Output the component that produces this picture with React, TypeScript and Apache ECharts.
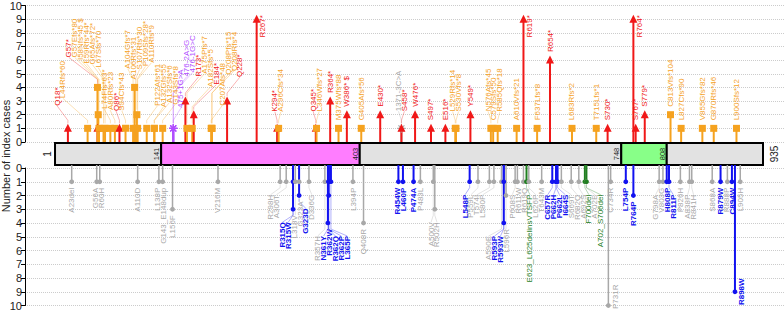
import React, { useEffect, useRef } from "react";
import * as echarts from "echarts";

// ---------------- data ----------------
const proteinLength = 935;
const domainStart = [1, 141, 403, 748, 808];
const domainEnd = [141, 403, 748, 808, 935];
const domainKind = ["plain", "domainA", "plain", "domainB", "plain"];

const truncLabels = ["Q18*","L44Rfs*60","G57*","G57Efs*80","I58Nfs*45 $","E59Rfs*44*","G65Afs*72*","L67Sfs*70","L74Ffs*63*","A80Rfs*23","Q86*","S94Cfs*43","A104Gfs*7","A106Rfs*31","S107Rfs*30","P109Sfs*28*","A110Rfs*9","P122Afs*61","A132Gfs*55","A132Sfs*6","G143Sfs*8","475+1G>A","476-2A>G","476-1G>C","R173*","A175Pfs*7","A182Sfs*5","E184*","C207Afs*48","Q208Pfs*15","Q208Rfs*4","Q228*","R267*","K294*","A296Cfs*34","Q345*","L346Wfs*27","R364*","M375Wfs*88","W386* $","G405Afs*56","E430*","1371-3C>A","S458*","W476*","S497*","E516*","L529Rfs*14","S530Vfs*8","Y549*","N576Afs*45","C579Sfs*50","R585Qfs*18","A610Vfs*21","R619*","F637Lfs*8","R654*","L683Rfs*2","T715Lfs*1","S730*","R764*","S767*","S779*","C813Vfs*104","L827Cfs*90","V855Gfs*82","G870Rfs*46","L900Sfs*12"];
const truncPos = [18,44,57,57,58,59,65,67,74,80,86,94,104,106,107,109,110,122,132,132,143,157,157,157,173,175,182,184,207,208,208,228,267,294,296,345,346,364,375,386,405,430,458,458,476,497,516,529,530,549,576,579,585,610,619,637,654,683,715,730,764,767,779,813,827,855,870,900];
const truncCases = [1,1,1,4,2,1,1,1,1,1,1,1,1,4,1,2,1,1,1,1,1,1,1,1,3,1,1,2,1,1,1,3,9,1,1,1,1,3,1,2,1,2,1,1,2,1,1,1,1,2,1,1,1,1,9,1,6,1,1,1,9,1,2,2,1,1,1,1];
// N nonsense, F frameshift, S splice, O other splice
const truncType = ["N","F","N","F","F","F","F","F","F","F","N","F","F","F","F","F","F","F","F","F","F","S","S","S","N","F","F","N","F","F","F","N","N","N","F","N","F","N","F","N","F","N","O","N","N","N","N","F","F","N","F","F","F","F","N","F","N","F","F","N","N","N","N","F","F","F","F","F"];

const missLabels = ["A23del","G56A","R60H","A110D","L138P","G143_E148dup","L156F","V216M","R298H","A306T","R315Q","R315W","L318V","G323A","G323D","D336G","R357H","N361Y","R362W","R362Q","R362P","L365P","L394P","Q408R","R454W","L460P","P474A","P483L","A500V","R502H","L548P","P559L","T574I","L580P","A590E","R593P","R593W","L596R","P608S","R611W","R619Q","E623_L625delinsVTSFP","L626P","T643M","C657R","P662H","P662L","I664S","S669T","R682Q","A692S","F700del","A702E","A702_S706del","P731R","C734R","L754P","R764P","G798A","V803G","H808P","R811P","P826H","A838P","R841H","S868A","R879W","R888P","C894W","R898W","L905H"];
const missPos = [23,56,60,110,138,143,156,216,298,306,315,315,318,323,323,336,357,361,362,362,362,365,394,408,454,460,474,483,500,502,548,559,574,580,590,593,593,596,608,611,619,623,626,643,657,662,662,664,669,682,692,700,702,702,731,734,754,764,798,803,808,811,826,838,841,868,879,888,894,898,905];
const missCases = [1,1,1,1,1,1,3,1,1,1,1,3,1,1,2,1,1,4,2,1,1,1,1,4,1,1,1,1,1,3,1,1,1,1,1,1,4,2,1,1,1,1,1,1,1,1,1,1,1,1,1,1,1,1,10,1,1,2,1,1,1,1,1,1,1,1,1,1,1,9,1];
// M other missense (grey), P pathogenic missense (blue), I in-frame (green)
const missType = ["M","M","M","M","M","M","M","M","M","M","P","P","M","M","P","M","M","P","P","P","P","P","M","M","P","P","P","M","M","M","P","M","M","M","M","P","P","M","M","M","M","I","M","M","P","P","P","P","M","M","M","I","M","I","M","M","P","P","M","M","P","P","M","M","M","M","P","M","P","P","M"];

const caseMin = 0;
const caseMax = 10;
const yTitle = "Number of index cases";

// ---------------- styles ----------------
const FF = '"Liberation Sans", Arial, Helvetica, sans-serif';
const COLORS: Record<string, string> = {
  N: "#f01818", F: "#f5a21f", S: "#b04dff", O: "#a8a8a8",
  M: "#a8a8a8", P: "#1212f0", I: "#1f7f1f",
};
const DOMAIN_COLORS: Record<string, string> = { plain: "#e2e2e2", domainA: "#ff7dff", domainB: "#88ff88" };
const X_MIN = -38.6;
const X_MAX = 962.7;
const GAP = 5.9;

let measureCtx: CanvasRenderingContext2D | null = null;
function textWidth(s: string, bold: boolean) {
  if (!measureCtx) measureCtx = document.createElement("canvas").getContext("2d");
  if (!measureCtx) return s.length * 4.5;
  measureCtx.font = `${bold ? "bold " : ""}8px ${FF}`;
  return measureCtx.measureText(s).width;
}

type Lay = { px: number; py: number; ext: number; len: number; side: boolean; lx: number; base: number; knee: number; displaced: boolean };

function computeLayout(pos: number[], cnt: number[], labels: string[], bold: boolean[], coord: (v: number[]) => number[], dir: number, bottomLimit: number): Lay[] {
  const L: Lay[] = pos.map((p, i) => {
    const c = coord([p, cnt[i]]);
    const px = c[0], py = c[1];
    const ext = dir < 0 ? py - 5 : py + 3;
    const len = textWidth(labels[i], bold[i]);
    const side = dir < 0 ? ext - 3 - len < 1 : ext + 3 + len > bottomLimit;
    return { px, py, ext, len, side, lx: px, base: ext, knee: ext, displaced: false };
  });
  const order = L.map((_, i) => i).filter((i) => !L[i].side).sort((a, b) => L[a].px - L[b].px || a - b);
  const LO = 57, HI = 776;
  type C = { ids: number[]; sum: number; start: number };
  const place = (c: C) => {
    const m = c.ids.length;
    let s = c.sum / m - ((m - 1) * GAP) / 2;
    s = Math.max(LO, Math.min(HI - (m - 1) * GAP, s));
    c.start = s;
  };
  const cl: C[] = [];
  for (const i of order) {
    const c: C = { ids: [i], sum: L[i].px, start: 0 };
    place(c);
    cl.push(c);
    while (cl.length > 1) {
      const b = cl[cl.length - 1], a = cl[cl.length - 2];
      if (a.start + a.ids.length * GAP > b.start + 1e-6) {
        a.ids.push(...b.ids);
        a.sum += b.sum;
        place(a);
        cl.pop();
      } else break;
    }
  }
  cl.forEach((c) => c.ids.forEach((id, k) => (L[id].lx = c.start + k * GAP)));
  for (const i of order) {
    const l = L[i];
    const a = Math.min(l.lx, l.px) - 3.5, b = Math.max(l.lx, l.px) + 3.5;
    let lim = l.ext;
    for (const j of order) {
      const q = L[j];
      if (q.px >= a && q.px <= b) lim = dir < 0 ? Math.min(lim, q.ext) : Math.max(lim, q.ext);
    }
    const dx = Math.abs(l.lx - l.px);
    l.displaced = dx > 1.5;
    l.knee = lim + dir * 3;
    if (!l.displaced) l.base = lim + dir * 3;
    else if (dir < 0) {
      l.base = l.knee - Math.min(22, 7 + 0.7 * dx);
      if (l.base - l.len < 2) l.base = Math.min(l.knee - 2, l.len + 2);
    } else l.base = lim + dir * 10;
  }
  return L;
}

let truncLay: Lay[] | null = null;
let missLay: Lay[] | null = null;

function textEl(x: number, y: number, text: string, fill: string, align: string, size: number, bold = false) {
  return {
    type: "text", x, y, rotation: Math.PI / 2, z2: 5, silent: true,
    style: { text, fill, fontSize: size, fontFamily: FF, fontWeight: bold ? "bold" : "normal", align, verticalAlign: "middle", textAlign: align, textVerticalAlign: "middle" },
  };
}

function leader(l: Lay, col: string) {
  let pts: number[][];
  if (l.displaced) pts = [[l.px, l.ext], [l.px, l.knee], [l.lx, l.base]];
  else if (Math.abs(l.base - l.ext) > 3.5) pts = [[l.px, l.ext], [l.px, l.base]];
  else return null;
  return { type: "polyline", z2: 0, silent: true, shape: { points: pts }, style: { stroke: col, lineWidth: 0.6, opacity: 0.55, fill: null } };
}

const renderTrunc = (params: any, api: any) => {
  if (!truncLay) truncLay = computeLayout(truncPos, truncCases, truncLabels, truncLabels.map(() => false), (v) => api.coord(v), -1, 309);
  const i = params.dataIndex;
  const l = truncLay[i];
  const t = truncType[i];
  const col = COLORS[t];
  const y0 = api.coord([truncPos[i], 0])[1];
  const { px, py } = l;
  const children: any[] = [];
  children.push({ type: "line", z2: 1, shape: { x1: px, y1: y0, x2: px, y2: py }, style: { stroke: col, lineWidth: 2 } });
  if (t === "N") {
    children.push({ type: "polygon", z2: 2, shape: { points: [[px - 4, py + 3.5], [px + 4, py + 3.5], [px, py - 4.5]] }, style: { fill: col } });
  } else if (t === "F") {
    children.push({ type: "rect", z2: 2, shape: { x: px - 3.5, y: py - 3.5, width: 7, height: 7 }, style: { fill: col } });
  } else {
    for (let k = 0; k < 4; k++) {
      const ang = (k * Math.PI) / 4;
      const dx = Math.cos(ang) * 4.2, dy = Math.sin(ang) * 4.2;
      children.push({ type: "line", z2: 2, shape: { x1: px - dx, y1: py - dy, x2: px + dx, y2: py + dy }, style: { stroke: col, lineWidth: 1.2 } });
    }
  }
  if (l.side) {
    children.push(textEl(px + 6, l.ext + 1, truncLabels[i], col, "right", 8));
  } else {
    const ld = leader(l, col);
    if (ld) children.push(ld);
    children.push(textEl(l.lx, l.base, truncLabels[i], col, "left", 8));
  }
  return { type: "group", children };
};

const renderMiss = (params: any, api: any) => {
  if (!missLay) missLay = computeLayout(missPos, missCases, missLabels, missType.map((t) => t === "P"), (v) => api.coord(v), 1, 309);
  const i = params.dataIndex;
  const l = missLay[i];
  const t = missType[i];
  const col = COLORS[t];
  const y0 = api.coord([missPos[i], 0])[1] - 3;
  const { px, py } = l;
  const children: any[] = [];
  children.push({ type: "line", z2: 1, shape: { x1: px, y1: y0, x2: px, y2: py }, style: { stroke: col, lineWidth: t === "M" ? 1.5 : 2 } });
  children.push({ type: "circle", z2: 2, shape: { cx: px, cy: py, r: 2.4 }, style: { fill: col } });
  if (l.side) {
    children.push(textEl(px + 7, Math.min(py, 309 - l.len / 2), missLabels[i], col, "center", 8, t === "P"));
  } else {
    const ld = leader(l, col);
    if (ld) children.push(ld);
    children.push(textEl(l.lx, l.base, missLabels[i], col, "right", 8, t === "P"));
  }
  return { type: "group", children };
};

const renderDomain = (params: any, api: any) => {
  const i = params.dataIndex;
  const p1 = api.coord([domainStart[i], 1]);
  const p2 = api.coord([domainEnd[i], 0]);
  const mid = (p1[1] + p2[1]) / 2;
  const children: any[] = [
    { type: "rect", z2: 1, shape: { x: p1[0], y: p1[1], width: p2[0] - p1[0], height: p2[1] - p1[1] }, style: { fill: DOMAIN_COLORS[domainKind[i]], stroke: "#000", lineWidth: 2 } },
  ];
  if (i < domainStart.length - 1) children.push(textEl(p2[0] - 4.5, mid, String(domainEnd[i]), "#222", "center", 7.5));
  if (i === 0) children.push(textEl(p1[0] - 8, mid, String(domainStart[0]), "#222", "center", 10));
  if (i === domainStart.length - 1) children.push(textEl(p2[0] + 11, mid, String(proteinLength), "#222", "center", 10));
  return { type: "group", children };
};

export default function App() {
  const ref = useRef<HTMLDivElement>(null);
  useEffect(() => {
    if (!ref.current) return;
    truncLay = null;
    missLay = null;
    const chart = echarts.init(ref.current, null, { renderer: "svg" });
    const yBase = {
      type: "value", min: caseMin, max: caseMax, interval: 1,
      axisLine: { show: true, onZero: false, lineStyle: { color: "#000", width: 1 } },
      axisTick: { show: true, length: 4, lineStyle: { color: "#000" } },
      axisLabel: { fontSize: 11, color: "#222", margin: 3, fontFamily: FF },
      splitLine: { show: true, lineStyle: { color: "#cccccc", type: "dotted", width: 1 } },
    };
    chart.setOption({
      animation: false,
      textStyle: { fontFamily: FF },
      grid: [
        { left: 25, right: 0, top: 4, height: 138 },
        { left: 25, right: 0, top: 143, height: 22 },
        { left: 25, right: 0, top: 168, height: 138 },
      ],
      xAxis: [0, 1, 2].map((g) => ({ type: "value", gridIndex: g, min: X_MIN, max: X_MAX, show: false })),
      yAxis: [
        { ...yBase, gridIndex: 0 },
        { type: "value", gridIndex: 1, min: 0, max: 1, show: false },
        { ...yBase, gridIndex: 2, inverse: true },
      ],
      graphic: [
        {
          type: "text", x: 6, y: 156, rotation: Math.PI / 2, silent: true,
          style: { text: yTitle, fontSize: 11, fill: "#222", fontFamily: FF, align: "center", verticalAlign: "middle", textAlign: "center", textVerticalAlign: "middle" },
        },
      ],
      series: [
        { type: "custom", xAxisIndex: 1, yAxisIndex: 1, silent: true, renderItem: renderDomain, data: domainStart.map((s, i) => [s, domainEnd[i]]) },
        { type: "custom", xAxisIndex: 0, yAxisIndex: 0, silent: true, clip: false, renderItem: renderTrunc, data: truncPos.map((p, i) => [p, truncCases[i]]) },
        { type: "custom", xAxisIndex: 2, yAxisIndex: 2, silent: true, clip: false, renderItem: renderMiss, data: missPos.map((p, i) => [p, missCases[i]]) },
      ],
    });
    return () => chart.dispose();
  }, []);
  return <div ref={ref} style={{ position: "fixed", left: 0, top: 0, width: 784, height: 311, background: "#fff" }} />;
}
